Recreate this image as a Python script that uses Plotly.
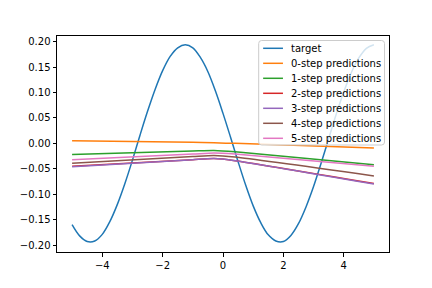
import plotly.graph_objects as go

# target curve samples
x_target = [-5.0, -4.75, -4.5, -4.25, -4.0, -3.75, -3.5, -3.25, -3.0, -2.75, -2.5,
            -2.25, -2.0, -1.75, -1.5, -1.25, -1.0, -0.75, -0.5, -0.25, 0.0,
            0.25, 0.5, 0.75, 1.0, 1.25, 1.5, 1.75, 2.0, 2.25, 2.5,
            2.75, 3.0, 3.25, 3.5, 3.75, 4.0, 4.25, 4.5, 4.75, 5.0]
y_target = [-0.160, -0.182, -0.193, -0.192, -0.179, -0.154, -0.120, -0.079, -0.033, 0.016, 0.063,
            0.106, 0.143, 0.171, 0.188, 0.194, 0.188, 0.169, 0.141, 0.103, 0.059,
            0.012, -0.036, -0.082, -0.123, -0.156, -0.180, -0.192, -0.193, -0.181, -0.158,
            -0.125, -0.085, -0.039, 0.009, 0.057, 0.101, 0.139, 0.168, 0.187, 0.194]

# prediction curves
x_pred = [-5.0, -1.0, -0.3, 0.4, 5.0]
pred_0 = [0.005, 0.002, 0.001, 0.000, -0.009]
pred_1 = [-0.022, -0.015, -0.014, -0.0165, -0.042]
pred_2 = [-0.045, -0.032, -0.030, -0.034, -0.079]
pred_3 = [-0.046, -0.032, -0.030, -0.034, -0.080]
pred_4 = [-0.039, -0.026, -0.024, -0.027, -0.064]
pred_5 = [-0.032, -0.021, -0.019, -0.021, -0.045]

names = ["target", "0-step predictions", "1-step predictions", "2-step predictions",
         "3-step predictions", "4-step predictions", "5-step predictions"]
colors = ["#1f77b4", "#ff7f0e", "#2ca02c", "#d62728", "#9467bd", "#8c564b", "#e377c2"]

fig = go.Figure()
fig.add_trace(go.Scatter(x=x_target, y=y_target, mode="lines", name=names[0],
                         line=dict(color=colors[0], width=1.5, shape="spline")))
for i, ys in enumerate([pred_0, pred_1, pred_2, pred_3, pred_4, pred_5]):
    fig.add_trace(go.Scatter(x=x_pred, y=ys, mode="lines", name=names[i + 1],
                             line=dict(color=colors[i + 1], width=1.5, shape="spline",
                                       smoothing=0.6)))

axis_common = dict(showline=True, linecolor="black", linewidth=1, mirror=True,
                   ticks="outside", ticklen=3.5, tickwidth=1, tickcolor="black",
                   showgrid=False, zeroline=False,
                   tickfont=dict(family="DejaVu Sans", size=10, color="black"))

# page has an 8px body margin; plot area wanted at x 54..389, y 36..252
W, H = 424, 280
L, R, T, B = 46, 43, 28, 36
PX0, PX1, PY0, PY1 = 54, 389, 36, 252


def px(x):
    return (x - PX0) / (PX1 - PX0)


def py(y):
    return (PY1 - y) / (PY1 - PY0)


# custom legend (matplotlib-like spacing)
lx0, lx1, ly0, ly1 = 257.5, 384.5, 40.5, 145.0
r = 3.0
rx, ry = r / (PX1 - PX0), r / (PY1 - PY0)
a0, a1, b0, b1 = px(lx0), px(lx1), py(ly1), py(ly0)
path = (f"M {a0 + rx},{b0} L {a1 - rx},{b0} Q {a1},{b0} {a1},{b0 + ry} "
        f"L {a1},{b1 - ry} Q {a1},{b1} {a1 - rx},{b1} L {a0 + rx},{b1} "
        f"Q {a0},{b1} {a0},{b1 - ry} L {a0},{b0 + ry} Q {a0},{b0} {a0 + rx},{b0} Z")
shapes = [dict(type="path", path=path, xref="paper", yref="paper",
               fillcolor="rgba(255,255,255,0.8)", line=dict(color="#cccccc", width=1),
               layer="above")]
annotations = []
for k, (nm, c) in enumerate(zip(names, colors)):
    yc = 48.3 + 15.0 * k
    shapes.append(dict(type="line", xref="paper", yref="paper",
                       x0=px(262), x1=px(282), y0=py(yc), y1=py(yc),
                       line=dict(color=c, width=1.5), layer="above"))
    annotations.append(dict(text=nm, xref="paper", yref="paper", x=px(289), y=py(yc),
                            xanchor="left", yanchor="middle", showarrow=False,
                            font=dict(family="DejaVu Sans", size=10, color="black"),
                            borderpad=0))

fig.update_layout(
    width=W, height=H,
    margin=dict(l=L, r=R, t=T, b=B),
    paper_bgcolor="white", plot_bgcolor="white",
    font=dict(family="DejaVu Sans", size=10, color="black"),
    showlegend=False,
    shapes=shapes,
    annotations=annotations,
    xaxis=dict(range=[-5.5, 5.5], tickmode="array", tickvals=[-4, -2, 0, 2, 4], **axis_common),
    yaxis=dict(range=[-0.2137, 0.2112], tickmode="array",
               tickvals=[-0.2, -0.15, -0.1, -0.05, 0.0, 0.05, 0.1, 0.15, 0.2],
               tickformat=".2f", **axis_common),
)

fig.write_html("out.html")
